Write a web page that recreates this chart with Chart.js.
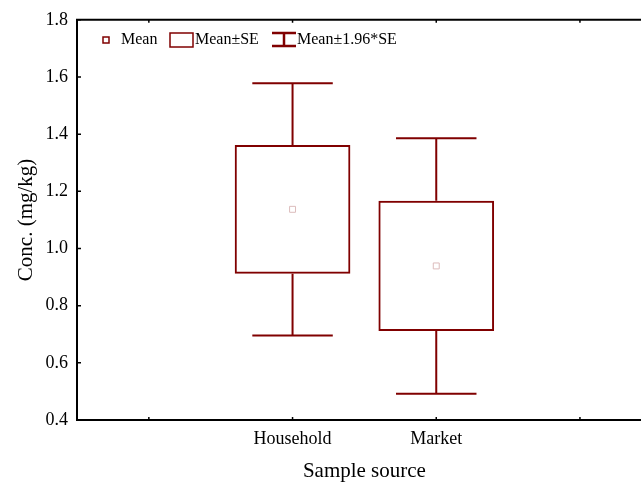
<!DOCTYPE html>
<html lang="en">
<head>
<meta charset="UTF-8">
<title>Conc. by sample source</title>
<script src="https://cdn.jsdelivr.net/npm/chart.js@4.4.0/dist/chart.umd.min.js"></script>
<style>
  html, body { margin: 0; padding: 0; background: #fff; overflow: hidden; }
  .chart { width: 657px; height: 482px; }
</style>
</head>
<body>
<div class="chart"><canvas id="myChart" width="657" height="482"></canvas></div>
<script>
// sample sources, with an empty slot either side on the axis
const categories = ['Household', 'Market'];
const xLabels = ['', ...categories, ''];
const means = [null, 1.137, 0.939, null];
const se = [null, 0.225, 0.228, null];
const z = 1.96;

const red = '#800000';
const serif = '"Liberation Serif", "Times New Roman", serif';

// box = mean +/- SE
const boxes = means.map((m, i) => m == null ? null : [m - se[i], m + se[i]]);

const boxPlot = {
  id: 'boxPlot',
  afterDatasetsDraw(chart) {
    const { ctx, chartArea: a, scales: { x, y } } = chart;
    ctx.save();

    // whiskers: mean +/- 1.96*SE
    ctx.strokeStyle = red;
    ctx.lineWidth = 2;
    means.forEach((m, i) => {
      if (m == null) return;
      const cx = x.getPixelForValue(i);
      const half = x.getPixelForValue(i + 0.28) - cx;
      [[m + se[i], m + z * se[i]], [m - se[i], m - z * se[i]]].forEach(([from, to]) => {
        const y0 = y.getPixelForValue(from), y1 = y.getPixelForValue(to);
        ctx.beginPath();
        ctx.moveTo(cx, y0); ctx.lineTo(cx, y1);
        ctx.moveTo(cx - half, y1); ctx.lineTo(cx + half, y1);
        ctx.stroke();
      });
    });

    // frame (open on the right) and inward ticks
    ctx.strokeStyle = '#000';
    ctx.lineWidth = 2;
    ctx.beginPath();
    ctx.moveTo(a.right, a.top); ctx.lineTo(a.left, a.top);
    ctx.lineTo(a.left, a.bottom); ctx.lineTo(a.right, a.bottom);
    ctx.stroke();
    ctx.lineWidth = 1.5;
    ctx.beginPath();
    y.ticks.forEach(t => {
      const py = y.getPixelForValue(t.value);
      ctx.moveTo(a.left, py); ctx.lineTo(a.left + 4, py);
    });
    xLabels.forEach((_, i) => {
      const px = x.getPixelForValue(i);
      ctx.moveTo(px, a.top); ctx.lineTo(px, a.top + 3);
      ctx.moveTo(px, a.bottom); ctx.lineTo(px, a.bottom - 3);
    });
    ctx.stroke();

    // legend
    const ly = 40;
    ctx.font = '16px ' + serif;
    ctx.fillStyle = '#000';
    ctx.textBaseline = 'middle';
    ctx.strokeStyle = red;
    ctx.lineWidth = 1.5;
    ctx.strokeRect(103, ly - 3, 6, 6);
    ctx.fillText('Mean', 121, ly);
    ctx.strokeRect(170, ly - 7, 23, 14);
    ctx.fillText('Mean\u00b1SE', 195, ly);
    ctx.lineWidth = 2.5;
    ctx.beginPath();
    ctx.moveTo(272, ly - 7); ctx.lineTo(296, ly - 7);
    ctx.moveTo(284, ly - 7); ctx.lineTo(284, ly + 6);
    ctx.moveTo(272, ly + 6); ctx.lineTo(296, ly + 6);
    ctx.stroke();
    ctx.fillText('Mean\u00b11.96*SE', 297, ly);

    ctx.restore();
  }
};

new Chart(document.getElementById('myChart'), {
  type: 'bar',
  data: {
    labels: xLabels,
    datasets: [
      {
        type: 'line',
        data: means,
        showLine: false,
        pointStyle: 'rect',
        pointRadius: 4.2,
        pointBorderWidth: 1,
        pointBorderColor: '#dcbcbc',
        pointBackgroundColor: 'rgba(0,0,0,0)'
      },
      {
        type: 'bar',
        data: boxes,
        backgroundColor: 'rgba(0,0,0,0)',
        borderColor: red,
        borderWidth: 2,
        borderSkipped: false,
        categoryPercentage: 1,
        barPercentage: 0.805
      }
    ]
  },
  options: {
    responsive: false,
    animation: false,
    devicePixelRatio: 1,
    layout: { padding: { top: 19 } },
    plugins: { legend: { display: false }, tooltip: { enabled: false } },
    scales: {
      x: {
        grid: { display: false, drawTicks: false },
        border: { display: false },
        ticks: { color: '#000', font: { family: serif, size: 18 }, padding: 8, maxRotation: 0, autoSkip: false },
        title: { display: true, text: 'Sample source', color: '#000', font: { family: serif, size: 21, lineHeight: 1 }, padding: 0 },
        afterFit(s) { s.height = 62; }
      },
      y: {
        min: 0.4,
        max: 1.8,
        grid: { display: false, drawTicks: false },
        border: { display: false },
        ticks: { stepSize: 0.2, color: '#000', font: { family: serif, size: 18 }, padding: 9,
                 callback: v => v.toFixed(1) },
        title: { display: true, text: 'Conc. (mg/kg)', color: '#000', font: { family: serif, size: 21 }, padding: { top: 14, bottom: 0 } },
        afterFit(s) { s.width = 77; }
      }
    }
  },
  plugins: [boxPlot]
});
</script>
</body>
</html>
